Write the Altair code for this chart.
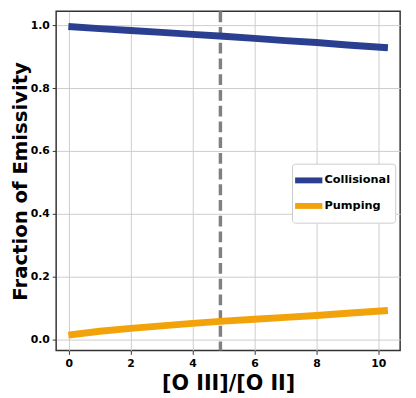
import altair as alt
import pandas as pd

ratio = [0.1, 1, 2, 3, 4, 5, 6, 7, 8, 9, 10.2]
collisional = [0.995, 0.989, 0.983, 0.977, 0.971, 0.965, 0.958, 0.951, 0.945, 0.937, 0.929]
pumping = [0.016, 0.027, 0.036, 0.044, 0.052, 0.059, 0.065, 0.071, 0.077, 0.084, 0.092]
vline_x = [4.9]
series_names = ["Collisional", "Pumping"]
series_colors = ["#2a3f8f", "#f2a30a"]

df = pd.DataFrame({
    "ratio": ratio * 2,
    "frac": collisional + pumping,
    "series": ["Collisional"] * len(ratio) + ["Pumping"] * len(ratio),
})
dv = pd.DataFrame({"x": vline_x})

font = "DejaVu Sans"

xscale = alt.Scale(domain=[-0.405, 10.705], nice=False, zero=False)
yscale = alt.Scale(domain=[-0.034, 1.044], nice=False, zero=False)

lines = alt.Chart(df).mark_line(strokeWidth=7, strokeCap="square").encode(
    x=alt.X("ratio:Q", scale=xscale,
            axis=alt.Axis(title="[O III]/[O II]", values=[0, 2, 4, 6, 8, 10], format="d",
                          titleFontSize=21)),
    y=alt.Y("frac:Q", scale=yscale,
            axis=alt.Axis(title="Fraction of Emissivity", values=[0, 0.2, 0.4, 0.6, 0.8, 1.0], format=".1f",
                          titleFontSize=20)),
    color=alt.Color("series:N", scale=alt.Scale(domain=series_names, range=series_colors),
                    legend=alt.Legend(title=None, orient="none", legendX=240, legendY=155,
                                      symbolType="M-1.6,0H1.6", symbolStrokeWidth=6, symbolSize=300,
                                      labelFont=font, labelFontWeight="bold", labelFontSize=11.5,
                                      fillColor="white", strokeColor="#cccccc", cornerRadius=3,
                                      padding=5, rowPadding=2, labelOffset=4)),
)

vline = alt.Chart(dv).mark_rule(color="#808080", strokeWidth=3.5, strokeDash=[11, 5]).encode(
    x=alt.X("x:Q", scale=xscale)
)

chart = alt.layer(vline, lines).properties(
    width=350, height=345,
    autosize=alt.AutoSizeParams(type="none"),
    padding={"left": 49, "top": 0, "right": 8, "bottom": 45},
).configure_view(stroke="#333333", strokeWidth=1.5).configure_axis(
    labelFont=font, labelFontWeight="bold", labelFontSize=11, labelColor="black",
    titleFont=font, titleFontWeight="bold", titleColor="black",
    gridColor="#cccccc", gridWidth=1, tickColor="#333333", tickSize=4,
    domain=False, labelPadding=3,
).configure_axisY(titlePadding=0).configure_axisX(titlePadding=5)

chart.save("out.html", embed_options={"renderer": "svg", "actions": False})
